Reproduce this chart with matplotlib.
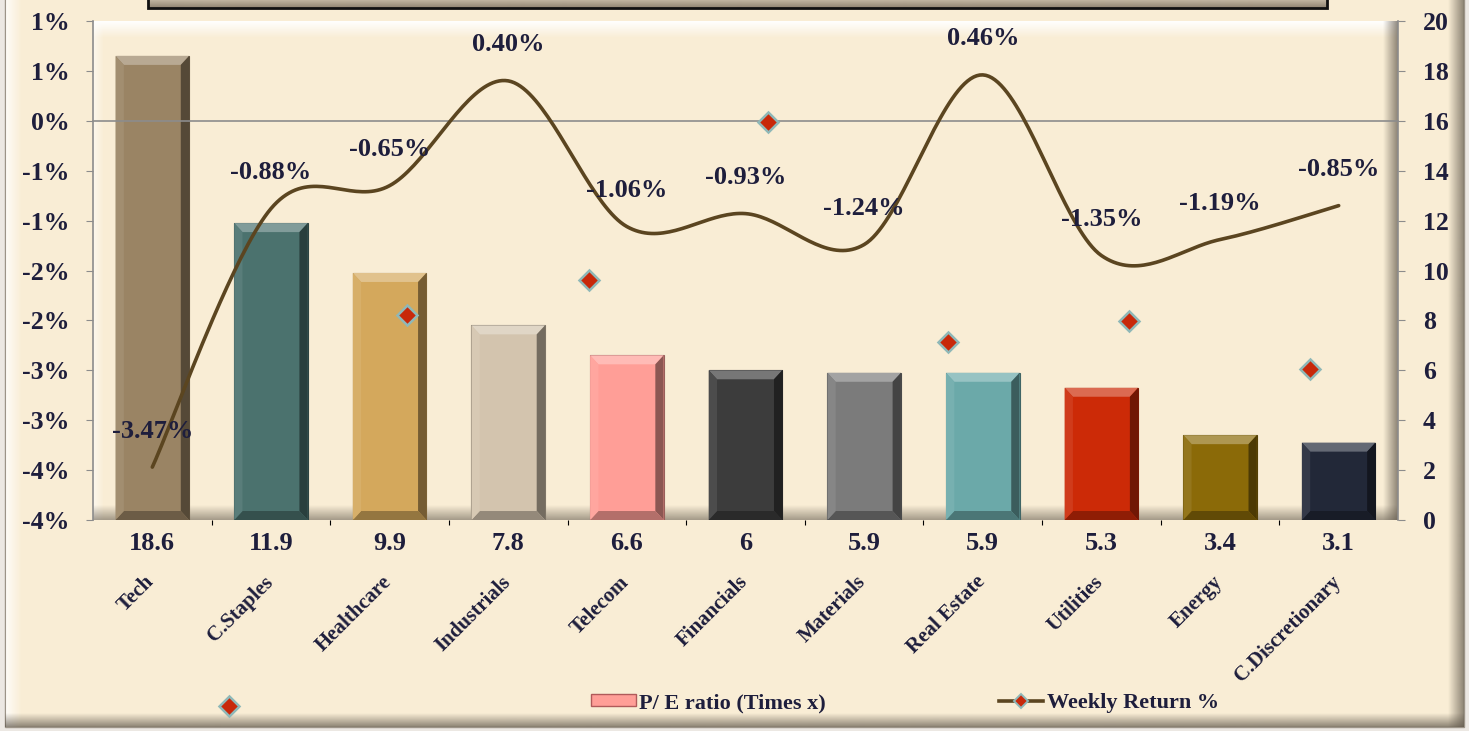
import numpy as np
import matplotlib
matplotlib.use("Agg")
import matplotlib.pyplot as plt
from matplotlib.colors import to_rgb
from matplotlib.patches import Rectangle, Polygon, Patch
from matplotlib.lines import Line2D
from matplotlib import transforms
from matplotlib.ticker import FixedLocator, FuncFormatter

plt.rcParams["font.family"] = ["Liberation Serif", "DejaVu Serif"]
plt.rcParams["font.weight"] = "bold"

sectors = ["Tech", "C.Staples", "Healthcare", "Industrials", "Telecom", "Financials",
           "Materials", "Real Estate", "Utilities", "Energy", "C.Discretionary"]
pe_ratio = [18.6, 11.9, 9.9, 7.8, 6.6, 6, 5.9, 5.9, 5.3, 3.4, 3.1]
pe_labels = ["18.6", "11.9", "9.9", "7.8", "6.6", "6", "5.9", "5.9", "5.3", "3.4", "3.1"]
weekly_ret = [-3.47, -0.88, -0.65, 0.40, -1.06, -0.93, -1.24, 0.46, -1.35, -1.19, -0.85]
bar_colors = ["#9A8464", "#4B726E", "#D4A85C", "#D3C4AE", "#FF9E97", "#3C3C3C",
              "#7B7B7B", "#6BA9A9", "#CC2A07", "#8B6A08", "#222838"]
# stray diamond markers (rendering artefact in the original)
stray_x = [0.65, 2.15, 3.68, 5.19, 6.71, 8.23, 9.76]
stray_y = [-5.86, -1.95, -1.60, -0.01, -2.22, -2.01, -2.49]

txt_col = "#1E1E3C"
line_col = "#5B4520"
cream = "#F9EDD5"
shade = "#5E564A"
W, H = 1469, 731

fig = plt.figure(figsize=(W / 100, H / 100), dpi=100, facecolor="#ECE8E3")

# ---- background frame (pixel coords)
bg = fig.add_axes([0, 0, 1, 1], zorder=0)
bg.axis("off")


def grad(x0, x1, y0, y1, c, a0, a1, vertical=True):
    n = 64
    if vertical:
        arr = np.zeros((n, 1, 4))
        arr[:, 0, 3] = np.linspace(a0, a1, n)
    else:
        arr = np.zeros((1, n, 4))
        arr[0, :, 3] = np.linspace(a0, a1, n)
    arr[..., :3] = to_rgb(c)
    bg.imshow(arr, extent=(x0, x1, y1, y0), aspect="auto", interpolation="bilinear", zorder=2)


bg.add_patch(Rectangle((5, -5), 1459, 732, facecolor=cream, edgecolor="#9C9488", lw=1, zorder=1))
grad(6, 22, -5, 727, "white", 0.8, 0.0, vertical=False)
grad(1448, 1464, -5, 727, shade, 0.0, 0.7, vertical=False)
grad(5, 1464, 713, 727, shade, 0.0, 0.7)
# plot panel bevel
grad(93, 1398, 21, 38, "white", 1.0, 0.0)
grad(93, 104, 21, 520, "white", 0.6, 0.0, vertical=False)
grad(1383, 1398, 21, 520, shade, 0.0, 0.7, vertical=False)
grad(93, 1398, 505, 520, shade, 0.0, 0.55)
# title box cut off at top
grad(148, 1327, -4, 8, "#8F8371", 0.3, 1.0)
bg.add_patch(Rectangle((148, -4), 1179, 12, facecolor="none", edgecolor="#111111", lw=2, zorder=3))
bg.set_xlim(0, W)
bg.set_ylim(H, 0)

# ---- chart axes
pos = [93 / W, 1 - 520 / H, (1398 - 93) / W, (520 - 21) / H]
ax_bar = fig.add_axes(pos, zorder=1)
ax_bar.patch.set_alpha(0)
ax_line = ax_bar.twinx()
ax_line.patch.set_visible(False)

x = np.arange(len(sectors))
bw = 0.62


def mix(c, t, amt):
    c = np.array(to_rgb(c))
    t = np.array(to_rgb(t))
    return tuple(c * (1 - amt) + t * amt)


bars = ax_bar.bar(x, pe_ratio, width=bw, color=bar_colors, edgecolor=[mix(c, "black", 0.4) for c in bar_colors],
                  lw=0.8, zorder=2)
dx, dy = 0.07, 0.36
for xi, v, c in zip(x, pe_ratio, bar_colors):
    x0, x1 = xi - bw / 2, xi + bw / 2
    ax_bar.add_patch(Polygon([(x0, v), (x1, v), (x1 - dx, v - dy), (x0 + dx, v - dy)],
                             facecolor=mix(c, "white", 0.3), lw=0, zorder=3))
    ax_bar.add_patch(Polygon([(x1, v), (x1, 0), (x1 - dx, dy), (x1 - dx, v - dy)],
                             facecolor=mix(c, "black", 0.45), lw=0, zorder=3))
    ax_bar.add_patch(Polygon([(x0, 0), (x1, 0), (x1 - dx, dy), (x0 + dx, dy)],
                             facecolor=mix(c, "black", 0.3), lw=0, zorder=3))
    ax_bar.add_patch(Polygon([(x0, v), (x0, 0), (x0 + dx, dy), (x0 + dx, v - dy)],
                             facecolor=mix(c, "white", 0.08), lw=0, zorder=3))

ax_bar.set_ylim(0, 20)
ax_bar.set_xlim(-0.5, len(sectors) - 0.5)
ax_bar.yaxis.tick_right()
ax_bar.set_yticks(np.arange(0, 21, 2))
ax_bar.tick_params(axis="y", direction="out", length=5, color="#8C8C8C", pad=13,
                   labelsize=18.5, labelcolor=txt_col)
ax_bar.set_xticks([])
for s in ["top", "bottom", "left"]:
    ax_bar.spines[s].set_visible(False)
ax_bar.spines["right"].set_color("#8C8C8C")
ax_bar.spines["right"].set_linewidth(1.2)

# bar value labels and category labels below the plot
base = transforms.blended_transform_factory(ax_bar.transData, ax_bar.transAxes)
val_tr = transforms.offset_copy(base, fig=fig, x=0, y=-24, units="dots")
cat_tr = transforms.offset_copy(base, fig=fig, x=-8, y=-52, units="dots")
for xi, lab, name in zip(x, pe_labels, sectors):
    ax_bar.text(xi, 0, lab, transform=val_tr, ha="center", va="center", fontsize=19,
                color=txt_col, fontweight="bold")
    ax_bar.text(xi, 0, name, transform=cat_tr, ha="right", va="top", rotation=45,
                rotation_mode="anchor", fontsize=15, color=txt_col, fontweight="bold")

# ---- smoothed weekly return line (Catmull-Rom style like Excel)
pts = np.column_stack([x, weekly_ret]).astype(float)
ext = np.vstack([pts[0], pts, pts[-1]])
curve = []
for i in range(1, len(ext) - 2):
    p0, p1, p2, p3 = ext[i - 1], ext[i], ext[i + 1], ext[i + 2]
    c1 = p1 + (p2 - p0) / 6
    c2 = p2 - (p3 - p1) / 6
    t = np.linspace(0, 1, 40)[:, None]
    seg = (1 - t) ** 3 * p1 + 3 * (1 - t) ** 2 * t * c1 + 3 * (1 - t) * t ** 2 * c2 + t ** 3 * p2
    curve.append(seg)
curve = np.vstack(curve)
ax_line.plot(curve[:, 0], curve[:, 1], color=line_col, lw=2.6, zorder=4, solid_capstyle="round")

lab_tr = transforms.offset_copy(ax_line.transData, fig=fig, x=0, y=36, units="dots")
for xi, v in zip(x, weekly_ret):
    ax_line.text(xi, v, f"{v:.2f}%", transform=lab_tr, ha="center", va="center", fontsize=19,
                 color=txt_col, fontweight="bold", zorder=6)

ax_line.plot(stray_x, stray_y, ls="none", marker="D", ms=10.5, mfc="#C8280A", mec="#8FB8B8",
             mew=1.8, clip_on=False, zorder=5)

ax_line.set_ylim(-4, 1)
ax_line.set_xlim(-0.5, len(sectors) - 0.5)
ax_line.yaxis.tick_left()
ax_line.yaxis.set_major_locator(FixedLocator(np.arange(-4, 1.01, 0.5)))


def excel_pct(v, _):
    r = int(np.sign(v) * np.floor(abs(v) + 0.5))
    return f"{r}%"


ax_line.yaxis.set_major_formatter(FuncFormatter(excel_pct))
ax_line.tick_params(axis="y", direction="out", length=5, color="#8C8C8C", pad=12,
                    labelsize=18.5, labelcolor=txt_col)
ax_line.spines["bottom"].set_position(("data", 0))
ax_line.spines["bottom"].set_color("#8C8C8C")
ax_line.spines["bottom"].set_linewidth(1.2)
ax_line.spines["left"].set_color("#8C8C8C")
ax_line.spines["left"].set_linewidth(1.2)
ax_line.spines["top"].set_visible(False)
ax_line.spines["right"].set_visible(False)
ax_line.set_xticks(x[:-1] + 0.5)
ax_line.set_xticklabels([])
ax_line.tick_params(axis="x", direction="out", length=5, color="#8C8C8C")

# ---- legend
handles = [Patch(facecolor="#FF9E97", edgecolor="#B05A5A"),
           Line2D([], [], color=line_col, lw=2.6, marker="D", ms=7, mfc="#C8280A", mec="#8FB8B8", mew=1.4)]
leg = fig.legend(handles, ["P/ E ratio (Times x)", "Weekly Return %"], loc="center",
                 bbox_to_anchor=(905 / W, 1 - 703 / H), ncol=2, frameon=False,
                 prop={"family": ["Liberation Serif"], "weight": "bold", "size": 16},
                 handlelength=2.0, handleheight=0.5, handletextpad=0.15, columnspacing=7.8)
for t in leg.get_texts():
    t.set_color(txt_col)
leg.set_zorder(10)

fig.savefig("out.png", dpi=100, facecolor=fig.get_facecolor())
